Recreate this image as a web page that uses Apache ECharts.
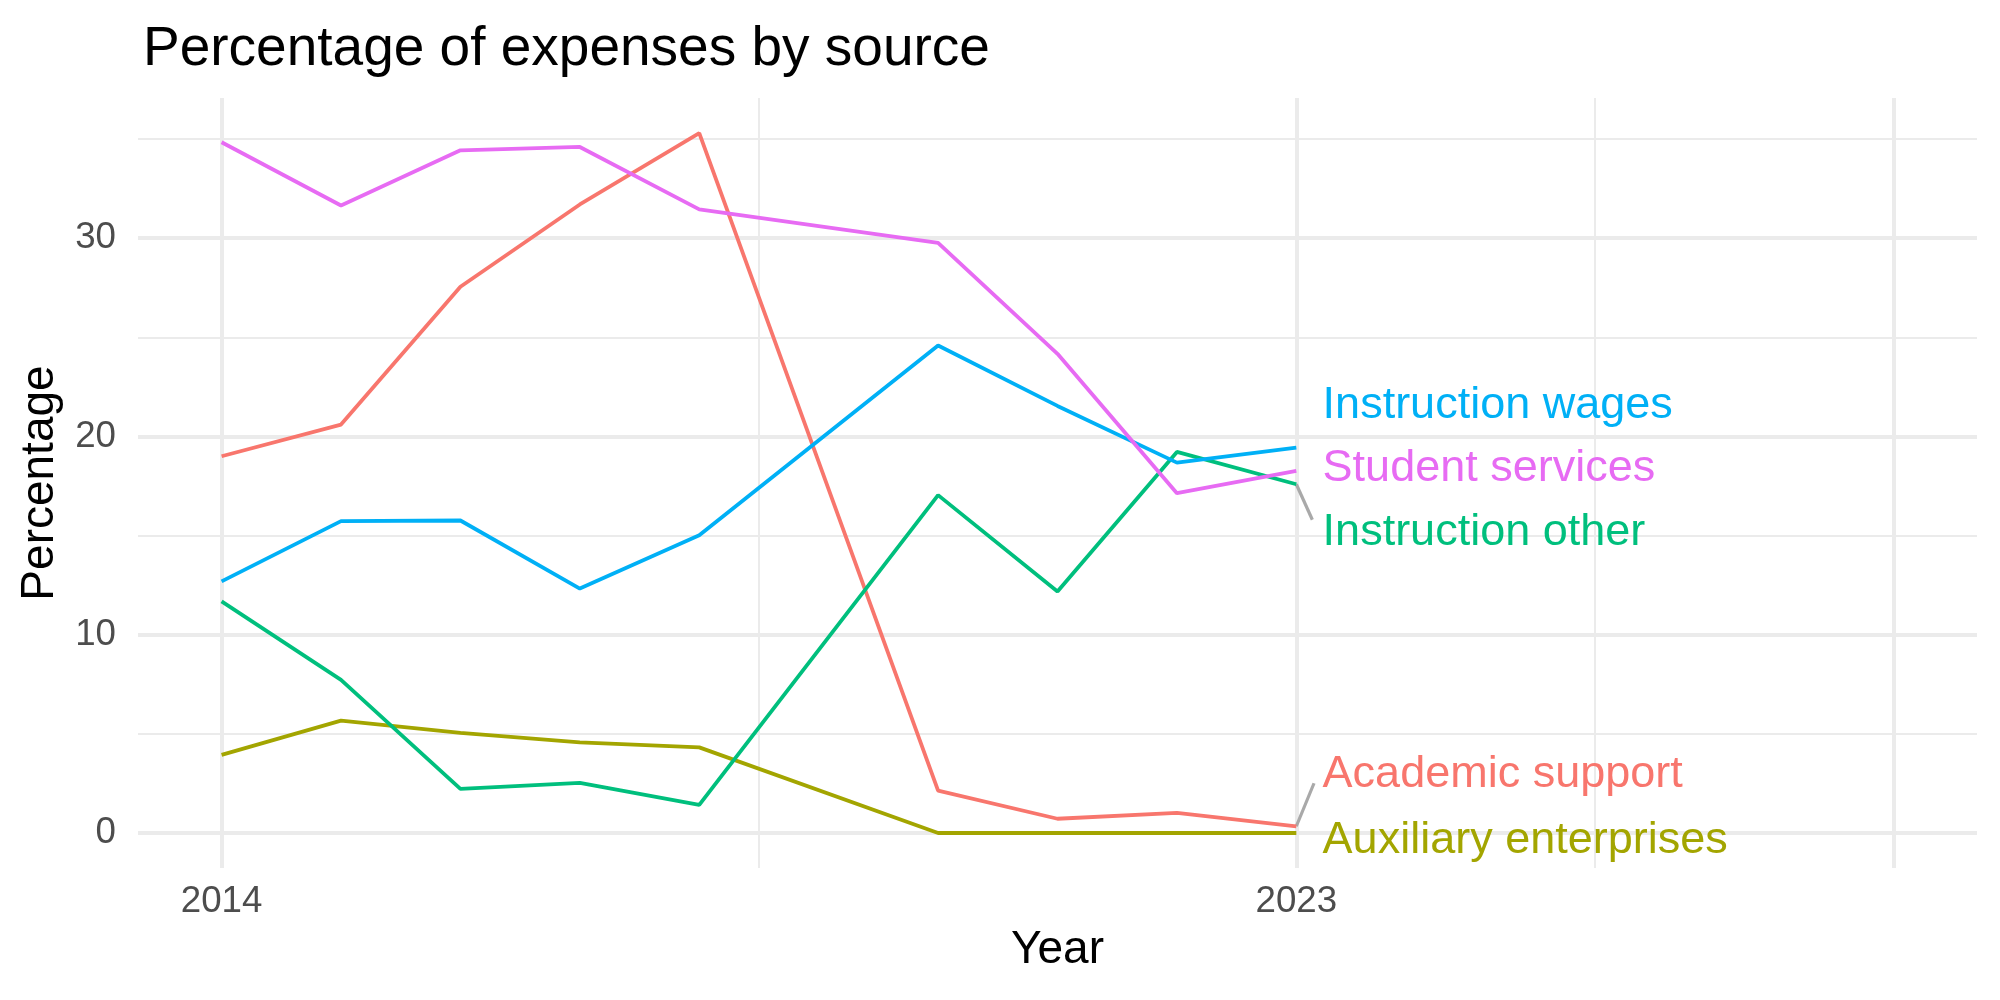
<!DOCTYPE html>
<html>
<head>
<meta charset="utf-8">
<title>Percentage of expenses by source</title>
<script src="https://cdn.jsdelivr.net/npm/echarts@6/dist/echarts.min.js"></script>
<style>
  html, body { margin: 0; padding: 0; background: #fff; }
  #chart { width: 2000px; height: 1000px; }
</style>
</head>
<body>
<div id="chart"></div>
<script>
const years = [2014, 2015, 2016, 2017, 2018, 2020, 2021, 2022, 2023];
const academicSupport = [19.0, 20.6, 27.55, 31.7, 35.3, 2.14, 0.72, 1.02, 0.34];
const auxiliaryEnterprises = [3.94, 5.67, 5.05, 4.57, 4.32, 0, 0, 0, 0];
const instructionOther = [11.68, 7.72, 2.23, 2.53, 1.42, 17.04, 12.18, 19.22, 17.59];
const instructionWages = [12.69, 15.73, 15.76, 12.33, 15.02, 24.59, 21.54, 18.68, 19.44];
const studentServices = [34.84, 31.65, 34.43, 34.6, 31.45, 29.76, 24.17, 17.14, 18.26];

const seriesNames = ['Academic support', 'Auxiliary enterprises', 'Instruction other', 'Instruction wages', 'Student services'];
const seriesColors = ['#F8766D', '#A3A500', '#00BF7D', '#00B0F6', '#E76BF3'];
const seriesValues = [academicSupport, auxiliaryEnterprises, instructionOther, instructionWages, studentServices];

// where the repelled labels ended up (percentage units)
const labelY = [2.96, -0.38, 15.15, 21.57, 18.4];
// leader segments: [series index, end x, end y]
const segments = [[0, 2023.148, 2.51], [2, 2023.134, 15.8]];

// tick / grid values
const xTickLabels = [2014, 2023];
const xMajor = [2014, 2023, 2028];
const xMinor = [2018.5, 2025.5];
const yTickLabels = [0, 10, 20, 30];
const yMinor = [5, 15, 25, 35];

const xMin = 2013.3, xMax = 2028.7;
const yMin = -1.765, yMax = 37.07;
const labelX = 2023.22;

const chart = echarts.init(document.getElementById('chart'), null, { renderer: 'canvas' });
const font = 'Liberation Sans, Arial, Helvetica, sans-serif';
const gridColor = '#EBEBEB';

const gridLine = (w) => ({ color: gridColor, width: w, type: 'solid', opacity: 1 });

// panel grid drawn as mark lines underneath everything
const gridSeries = {
  type: 'line',
  data: [],
  silent: true,
  z: 0,
  markLine: {
    z: 0,
    silent: true,
    symbol: 'none',
    animation: false,
    label: { show: false },
    emphasis: { disabled: true },
    data: [
      ...yMinor.map(v => ({ yAxis: v, lineStyle: gridLine(2) })),
      ...xMinor.map(v => ({ xAxis: v, lineStyle: gridLine(2) })),
      ...yTickLabels.map(v => ({ yAxis: v, lineStyle: gridLine(4) })),
      ...xMajor.map(v => ({ xAxis: v, lineStyle: gridLine(4) }))
    ]
  }
};

const lineSeries = seriesNames.map((name, i) => ({
  name: name,
  type: 'line',
  z: 3,
  symbol: 'none',
  data: years.map((yr, j) => [yr, seriesValues[i][j]]),
  lineStyle: { color: seriesColors[i], width: 3.8 },
  itemStyle: { color: seriesColors[i] },
  emphasis: { disabled: true }
}));

const segmentSeries = segments.map(([idx, ex, ey]) => ({
  type: 'line',
  z: 2,
  symbol: 'none',
  silent: true,
  data: [[years[years.length - 1], seriesValues[idx][years.length - 1]], [ex, ey]],
  lineStyle: { color: '#A9A9A9', width: 3.2 }
}));

const labelSeries = seriesNames.map((name, i) => ({
  type: 'scatter',
  z: 6,
  silent: true,
  symbolSize: 0,
  itemStyle: { opacity: 1, color: seriesColors[i] },
  data: [[labelX, labelY[i]]],
  label: {
    show: true,
    position: 'right',
    distance: 0,
    opacity: 1,
    formatter: name,
    color: seriesColors[i],
    fontFamily: font,
    fontSize: 45
  },
  emphasis: { disabled: true }
}));

const option = {
  backgroundColor: '#ffffff',
  animation: false,
  title: {
    text: 'Percentage of expenses by source',
    left: 138,
    top: 17,
    textStyle: { fontFamily: font, fontSize: 55, fontWeight: 'normal', color: '#000' }
  },
  grid: { left: 138, right: 23, top: 98, bottom: 132 },
  xAxis: {
    type: 'value',
    min: xMin,
    max: xMax,
    name: 'Year',
    nameLocation: 'middle',
    nameGap: 59,
    nameTextStyle: { fontFamily: font, fontSize: 46, color: '#000' },
    axisLine: { show: false },
    axisTick: { show: false },
    splitLine: { show: false },
    axisLabel: {
      customValues: xTickLabels,
      margin: 15,
      fontFamily: font,
      fontSize: 36.7,
      color: '#4D4D4D',
      formatter: v => String(v)
    }
  },
  yAxis: {
    type: 'value',
    min: yMin,
    max: yMax,
    name: 'Percentage',
    nameLocation: 'middle',
    nameRotate: 90,
    nameGap: 75,
    nameTextStyle: { fontFamily: font, fontSize: 46, color: '#000' },
    axisLine: { show: false },
    axisTick: { show: false },
    splitLine: { show: false },
    axisLabel: {
      customValues: yTickLabels,
      margin: 22,
      fontFamily: font,
      fontSize: 36.7,
      color: '#4D4D4D',
      formatter: v => String(v)
    }
  },
  series: [gridSeries, ...segmentSeries, ...lineSeries, ...labelSeries]
};

chart.setOption(option);
</script>
</body>
</html>
